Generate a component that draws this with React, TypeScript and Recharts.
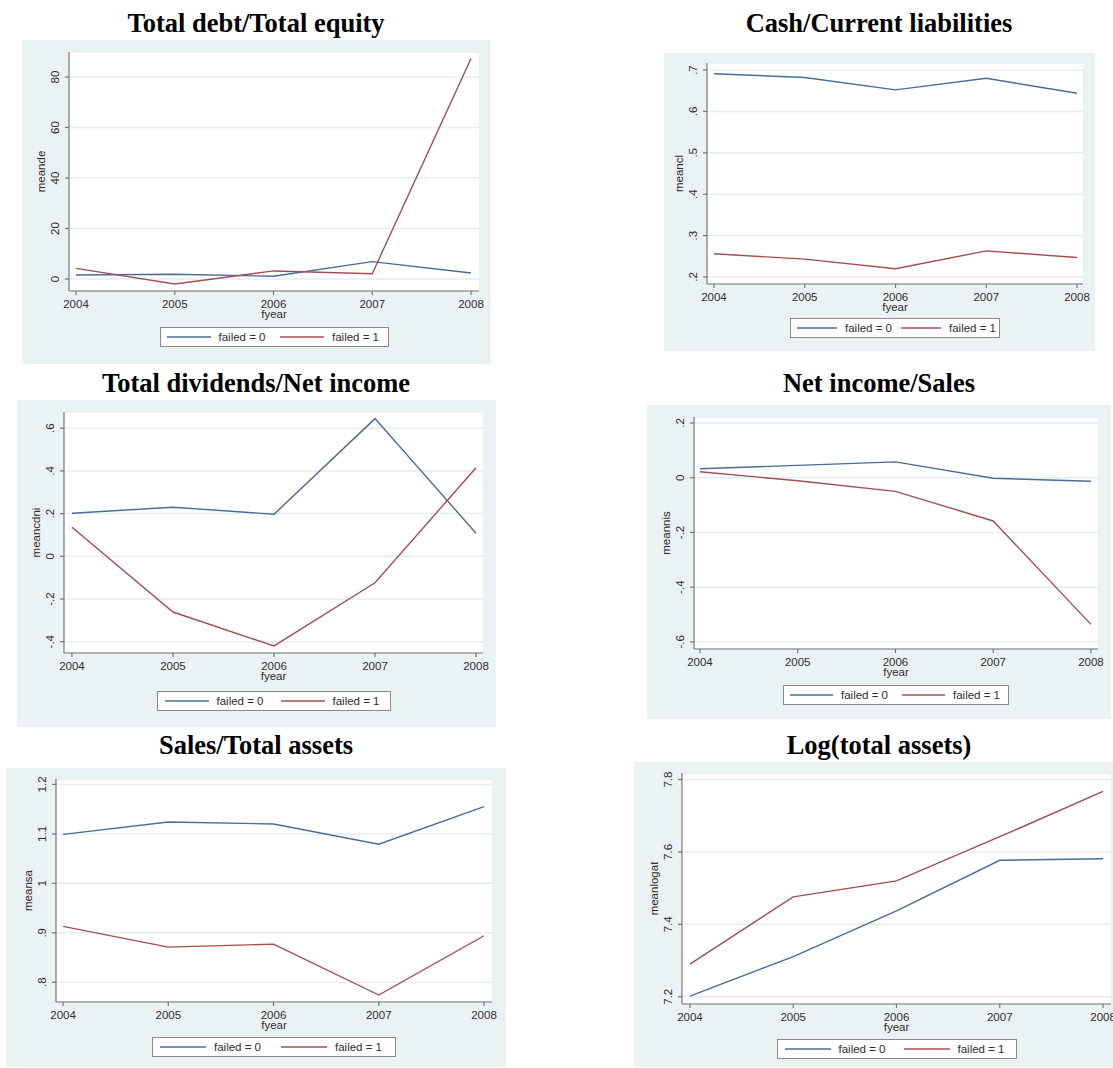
import React from 'react';
import { LineChart, Line, XAxis, YAxis, CartesianGrid, Label } from 'recharts';

// x categories shared by every panel
const years = [2004, 2005, 2006, 2007, 2008];

// series: failed = 0 / failed = 1, one pair per ratio
const debtEquity0 = [1.6, 1.9, 1.1, 6.9, 2.4];
const debtEquity1 = [4.2, -2.0, 3.2, 2.1, 87.3];
const cashCl0 = [0.691, 0.682, 0.652, 0.68, 0.644];
const cashCl1 = [0.256, 0.243, 0.22, 0.263, 0.247];
const divNi0 = [0.202, 0.23, 0.197, 0.645, 0.108];
const divNi1 = [0.136, -0.261, -0.42, -0.124, 0.415];
const niSales0 = [0.033, 0.045, 0.058, -0.002, -0.013];
const niSales1 = [0.022, -0.011, -0.05, -0.158, -0.536];
const salesTa0 = [1.099, 1.124, 1.12, 1.079, 1.155];
const salesTa1 = [0.913, 0.871, 0.877, 0.774, 0.894];
const logTa0 = [7.202, 7.311, 7.437, 7.577, 7.581];
const logTa1 = [7.29, 7.476, 7.52, 7.642, 7.767];

// y tick labels
const debtEquityTicks = [0, 20, 40, 60, 80];
const cashClTicks = [0.2, 0.3, 0.4, 0.5, 0.6, 0.7];
const divNiTicks = [-0.4, -0.2, 0, 0.2, 0.4, 0.6];
const niSalesTicks = [-0.6, -0.4, -0.2, 0, 0.2];
const salesTaTicks = [0.8, 0.9, 1, 1.1, 1.2];
const logTaTicks = [7.2, 7.4, 7.6, 7.8];

const seriesNames = ['failed = 0', 'failed = 1'];
const seriesColors = ['#4a6c96', '#a34e55'];

const BG = '#eaf2f3';
const GRID = '#e6eef0';
const AXIS = '#777777';
const TEXT = '#2e2e2e';
const FS = 11.5;
const SANS = '"Liberation Sans", Arial, sans-serif';
const SERIF = '"Liberation Serif", "Times New Roman", serif';

type PanelCfg = {
  title: string;
  titleX: number;
  titleBase: number;
  yName: string;
  s0: number[];
  s1: number[];
  yTicks: number[];
  yDomain: [number, number];
  xDomain: [number, number];
  bg: { x: number; y: number; w: number; h: number };
  plot: { l: number; t: number; r: number; b: number };
  legend: { w: number; gap: number };
};

const panels: PanelCfg[] = [
  {
    title: 'Total debt/Total equity', titleX: 256, titleBase: 31.5, yName: 'meande',
    s0: debtEquity0, s1: debtEquity1, yTicks: debtEquityTicks,
    yDomain: [-4.75, 89.9], xDomain: [2003.929, 2008.081],
    bg: { x: 22, y: 40, w: 469, h: 324 }, plot: { l: 69, t: 52, r: 479, b: 291 },
    legend: { w: 229, gap: 36 },
  },
  {
    title: 'Cash/Current liabilities', titleX: 879, titleBase: 31.5, yName: 'meancl',
    s0: cashCl0, s1: cashCl1, yTicks: cashClTicks,
    yDomain: [0.183, 0.717], xDomain: [2003.923, 2008.066],
    bg: { x: 664, y: 53, w: 431, h: 298 }, plot: { l: 707, t: 63, r: 1083, b: 284 },
    legend: { w: 210, gap: 34 },
  },
  {
    title: 'Total dividends/Net income', titleX: 256, titleBase: 391.5, yName: 'meancdni',
    s0: divNi0, s1: divNi1, yTicks: divNiTicks,
    yDomain: [-0.453, 0.676], xDomain: [2003.921, 2008.069],
    bg: { x: 17, y: 400, w: 479, h: 327 }, plot: { l: 64, t: 412, r: 483, b: 653 },
    legend: { w: 234, gap: 38 },
  },
  {
    title: 'Net income/Sales', titleX: 879, titleBase: 391.5, yName: 'meannis',
    s0: niSales0, s1: niSales1, yTicks: niSalesTicks,
    yDomain: [-0.626, 0.222], xDomain: [2003.939, 2008.072],
    bg: { x: 647, y: 405, w: 464, h: 314 }, plot: { l: 694, t: 417, r: 1098, b: 649 },
    legend: { w: 226, gap: 36 },
  },
  {
    title: 'Sales/Total assets', titleX: 256, titleBase: 753.5, yName: 'meansa',
    s0: salesTa0, s1: salesTa1, yTicks: salesTaTicks,
    yDomain: [0.76, 1.211], xDomain: [2003.933, 2008.076],
    bg: { x: 6, y: 768, w: 500, h: 299 }, plot: { l: 56, t: 779, r: 492, b: 1002 },
    legend: { w: 244, gap: 35 },
  },
  {
    title: 'Log(total assets)', titleX: 879, titleBase: 753.5, yName: 'meanlogat',
    s0: logTa0, s1: logTa1, yTicks: logTaTicks,
    yDomain: [7.18, 7.818], xDomain: [2003.923, 2008.077],
    bg: { x: 634, y: 762, w: 488, h: 305 }, plot: { l: 682, t: 773, r: 1111, b: 1004 },
    legend: { w: 240, gap: 35 },
  },
];

// Stata style: .5 instead of 0.5
const fmt = (v: number) => String(Math.round(v * 1000) / 1000).replace(/^(-?)0\./, '$1.');

const YTick = (props: any) => {
  const { x, y, payload } = props;
  return (
    <text x={x} y={y} transform={`rotate(-90, ${x}, ${y})`} textAnchor="middle"
      fontSize={FS} fontFamily={SANS} fill={TEXT}>
      {fmt(payload.value)}
    </text>
  );
};

const yTitle = (name: string) => (props: any) => {
  const vb = props.viewBox;
  if (!vb) return null;
  const cx = vb.x + vb.width - 24;
  const cy = vb.y + vb.height / 2;
  return (
    <text x={cx} y={cy} transform={`rotate(-90, ${cx}, ${cy})`} textAnchor="middle"
      fontSize={FS} fontFamily={SANS} fill={TEXT}>
      {name}
    </text>
  );
};

const xTitle = (props: any) => {
  const vb = props.viewBox;
  if (!vb) return null;
  return (
    <text x={vb.x + vb.width / 2} y={vb.y + 27} textAnchor="middle"
      fontSize={FS} fontFamily={SANS} fill={TEXT}>
      fyear
    </text>
  );
};

const Panel: React.FC<{ p: PanelCfg }> = ({ p }) => {
  const data = years.map((year, i) => ({ year, s0: p.s0[i], s1: p.s1[i] }));
  const xAxisH = 30;
  const margin = {
    top: p.plot.t - p.bg.y,
    right: p.bg.x + p.bg.w - p.plot.r,
    left: 0,
    bottom: p.bg.y + p.bg.h - p.plot.b - xAxisH,
  };
  const plotMid = (p.plot.l + p.plot.r) / 2;
  const lw = p.legend.w;
  const sample = Math.round(lw * 0.19);

  return (
    <>
      <div style={{
        position: 'absolute', left: p.titleX - 250, width: 500, top: p.titleBase - 24,
        fontFamily: SERIF, fontWeight: 'bold', fontSize: 26.5, lineHeight: '30px',
        textAlign: 'center', color: '#000',
      }}>
        {p.title}
      </div>
      <div style={{ position: 'absolute', left: p.bg.x, top: p.bg.y, width: p.bg.w, height: p.bg.h, background: BG }}>
        <LineChart width={p.bg.w} height={p.bg.h} data={data} margin={margin}>
          <CartesianGrid vertical={false} fill="#ffffff" stroke={GRID} strokeWidth={1.5} />
          <XAxis dataKey="year" type="number" domain={p.xDomain} ticks={years} interval={0}
            allowDataOverflow height={xAxisH} tickSize={4} tickMargin={5}
            stroke={AXIS} strokeWidth={1.2} tick={{ fontSize: FS, fontFamily: SANS, fill: TEXT }}>
            <Label content={xTitle} />
          </XAxis>
          <YAxis type="number" domain={p.yDomain} ticks={p.yTicks} interval={0} allowDataOverflow
            width={p.plot.l - p.bg.x} tickSize={4} tickMargin={6} stroke={AXIS} strokeWidth={1.2} tick={<YTick />}>
            <Label content={yTitle(p.yName)} />
          </YAxis>
          <Line type="linear" dataKey="s0" name={seriesNames[0]} stroke={seriesColors[0]}
            strokeWidth={1.4} dot={false} isAnimationActive={false} />
          <Line type="linear" dataKey="s1" name={seriesNames[1]} stroke={seriesColors[1]}
            strokeWidth={1.4} dot={false} isAnimationActive={false} />
        </LineChart>
      </div>
      <div style={{
        position: 'absolute', left: plotMid - lw / 2, top: p.plot.b + p.legend.gap, width: lw, height: 20,
        boxSizing: 'border-box', border: '1px solid #8a8a8a', background: '#fff',
        display: 'flex', alignItems: 'center',
        fontFamily: SANS, fontSize: FS, color: TEXT,
      }}>
        {seriesNames.map((name, i) => (
          <div key={name} style={{ width: '50%', display: 'flex', alignItems: 'center', paddingLeft: Math.round(lw * 0.028) }}>
            <svg width={sample} height={4} style={{ marginRight: 8 }}>
              <line x1={0} y1={2} x2={sample} y2={2} stroke={seriesColors[i]} strokeWidth={1.4} />
            </svg>
            <span>{name}</span>
          </div>
        ))}
      </div>
    </>
  );
};

export default function App() {
  return (
    <div style={{ position: 'absolute', left: 0, top: 0, width: 1113, height: 1068, overflow: 'hidden', background: '#fff' }}>
      {panels.map((p) => (
        <Panel key={p.title} p={p} />
      ))}
    </div>
  );
}
